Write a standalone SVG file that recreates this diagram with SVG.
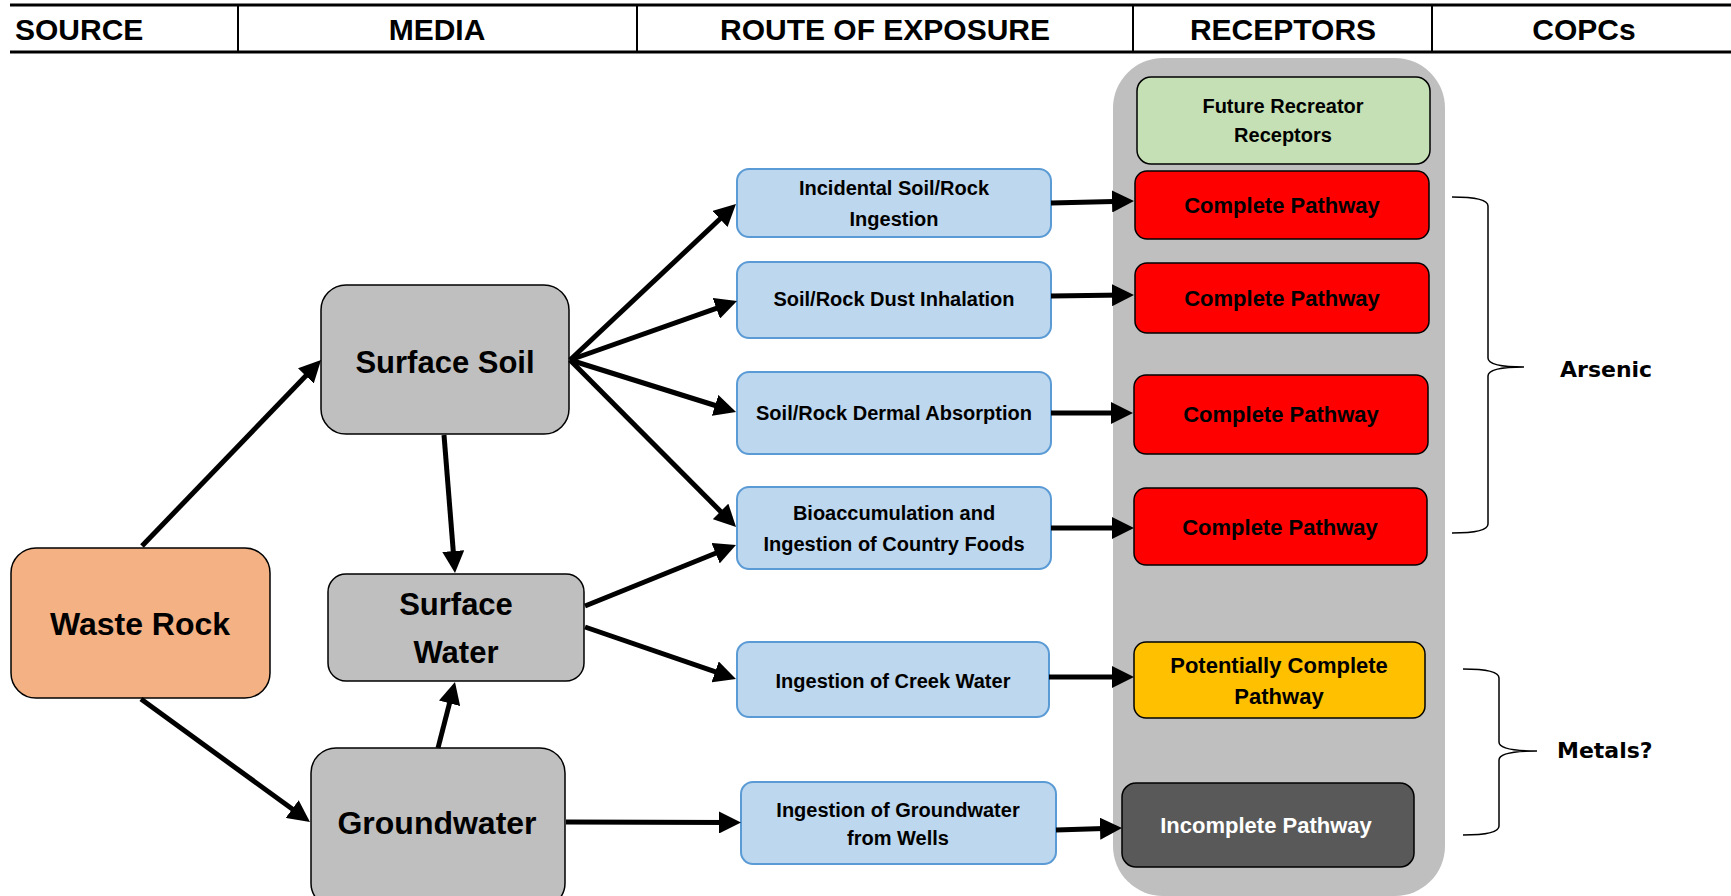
<svg xmlns="http://www.w3.org/2000/svg" width="1731" height="896" viewBox="0 0 1731 896">
<style>
text{font-family:"Liberation Sans",Arial,sans-serif;font-weight:bold;fill:#000;text-anchor:middle}
.hdr{font-size:30px}
.big{font-size:32px}
.rt{font-size:20px}
.rc{font-size:22px}
.gr{font-size:20px}
.copc{font-family:"DejaVu Sans",Verdana,sans-serif;font-size:22px;text-anchor:start}
.med{fill:#BFBFBF;stroke:#000;stroke-width:1.5}
.route{fill:#BDD7EE;stroke:#5B9BD5;stroke-width:2}
.rec{stroke:#000;stroke-width:1.5}
.conn line{stroke:#000;stroke-width:5;marker-end:url(#ah)}
.brace{fill:none;stroke:#000;stroke-width:1.5}
</style>
<defs>
<marker id="ah" viewBox="0 0 22 22" markerWidth="22" markerHeight="22" markerUnits="userSpaceOnUse" refX="12" refY="11" orient="auto">
<path d="M0,0 L22,11 L0,22 z" fill="#000"/>
</marker>
</defs>
<rect width="1731" height="896" fill="#fff"/>
<g id="header">
<line x1="10" y1="5" x2="1731" y2="5" stroke="#000" stroke-width="3"/>
<line x1="10" y1="52" x2="1731" y2="52" stroke="#000" stroke-width="3"/>
<line x1="238" y1="5" x2="238" y2="52" stroke="#000" stroke-width="2"/>
<line x1="637" y1="5" x2="637" y2="52" stroke="#000" stroke-width="2"/>
<line x1="1133" y1="5" x2="1133" y2="52" stroke="#000" stroke-width="2"/>
<line x1="1432" y1="5" x2="1432" y2="52" stroke="#000" stroke-width="2"/>
<text class="hdr" x="15" y="40" style="text-anchor:start">SOURCE</text>
<text class="hdr" x="437" y="40">MEDIA</text>
<text class="hdr" x="885" y="40">ROUTE OF EXPOSURE</text>
<text class="hdr" x="1283" y="40">RECEPTORS</text>
<text class="hdr" x="1584" y="40">COPCs</text>
</g>
<g id="receptor-panel">
<rect x="1113" y="58" width="332" height="838" rx="50" fill="#BFBFBF"/>
</g>
<g id="waste-rock">
<rect x="11" y="548" width="259" height="150" rx="25" fill="#F4B183" stroke="#000" stroke-width="1.5"/>
<text class="big" x="140" y="635">Waste Rock</text>
</g>
<g id="surface-soil">
<rect class="med" x="321" y="285" width="248" height="149" rx="25"/>
<text class="big" x="445" y="373" style="font-size:31px">Surface Soil</text>
</g>
<g id="surface-water">
<rect class="med" x="328" y="574" width="256" height="107" rx="18"/>
<text class="big" x="456" y="615" style="font-size:31px">Surface</text>
<text class="big" x="456" y="663" style="font-size:31px">Water</text>
</g>
<g id="groundwater">
<rect class="med" x="311" y="748" width="254" height="160" rx="25"/>
<text class="big" x="437" y="834">Groundwater</text>
</g>
<g id="route-ingestion">
<rect class="route" x="737" y="169" width="314" height="68" rx="12"/>
<text class="rt" x="894" y="195">Incidental Soil/Rock</text>
<text class="rt" x="894" y="226">Ingestion</text>
</g>
<g id="route-inhalation">
<rect class="route" x="737" y="262" width="314" height="76" rx="12"/>
<text class="rt" x="894" y="306">Soil/Rock Dust Inhalation</text>
</g>
<g id="route-dermal">
<rect class="route" x="737" y="372" width="314" height="82" rx="12"/>
<text class="rt" x="894" y="420">Soil/Rock Dermal Absorption</text>
</g>
<g id="route-bio">
<rect class="route" x="737" y="487" width="314" height="82" rx="12"/>
<text class="rt" x="894" y="520">Bioaccumulation and</text>
<text class="rt" x="894" y="551">Ingestion of Country Foods</text>
</g>
<g id="route-creek">
<rect class="route" x="737" y="642" width="312" height="75" rx="12"/>
<text class="rt" x="893" y="688">Ingestion of Creek Water</text>
</g>
<g id="route-wells">
<rect class="route" x="741" y="782" width="315" height="82" rx="12"/>
<text class="rt" x="898" y="817">Ingestion of Groundwater</text>
<text class="rt" x="898" y="845">from Wells</text>
</g>
<g id="rec-future">
<rect class="rec" x="1137" y="77" width="293" height="87" rx="14" fill="#C5E0B4"/>
<text class="gr" x="1283" y="113">Future Recreator</text>
<text class="gr" x="1283" y="142">Receptors</text>
</g>
<g id="rec-1">
<rect class="rec" x="1135" y="171" width="294" height="68" rx="12" fill="#FF0000"/>
<text class="rc" x="1282" y="213">Complete Pathway</text>
</g>
<g id="rec-2">
<rect class="rec" x="1135" y="263" width="294" height="70" rx="12" fill="#FF0000"/>
<text class="rc" x="1282" y="306">Complete Pathway</text>
</g>
<g id="rec-3">
<rect class="rec" x="1134" y="375" width="294" height="79" rx="12" fill="#FF0000"/>
<text class="rc" x="1281" y="422">Complete Pathway</text>
</g>
<g id="rec-4">
<rect class="rec" x="1134" y="488" width="293" height="77" rx="12" fill="#FF0000"/>
<text class="rc" x="1280" y="535">Complete Pathway</text>
</g>
<g id="rec-potential">
<rect class="rec" x="1134" y="642" width="291" height="76" rx="12" fill="#FFC000"/>
<text class="rc" x="1279" y="673">Potentially Complete</text>
<text class="rc" x="1279" y="704">Pathway</text>
</g>
<g id="rec-incomplete">
<rect class="rec" x="1122" y="783" width="292" height="84" rx="14" fill="#595959"/>
<text class="rc" x="1266" y="833" style="fill:#fff">Incomplete Pathway</text>
</g>
<g id="copc-arsenic">
<path class="brace" d="M1452,197 Q1488,197 1488,206 L1488,358 Q1488,367 1524,367 Q1488,367 1488,376 L1488,524 Q1488,533 1452,533"/>
<text class="copc" x="1560" y="377">Arsenic</text>
</g>
<g id="copc-metals">
<path class="brace" d="M1463,669 Q1499,669 1499,678 L1499,742 Q1499,751 1537,751 Q1499,751 1499,760 L1499,826 Q1499,835 1463,835"/>
<text class="copc" x="1557" y="758">Metals?</text>
</g>
<g id="connectors" class="conn">
<line x1="142" y1="546" x2="314.1" y2="367.2"/>
<line x1="141" y1="699" x2="301.9" y2="816.1"/>
<line x1="444" y1="435" x2="454.2" y2="563"/>
<line x1="438" y1="748" x2="452.5" y2="691.7"/>
<line x1="570" y1="360" x2="728.7" y2="210.8"/>
<line x1="570" y1="360" x2="727.6" y2="304.3"/>
<line x1="570" y1="360" x2="726.5" y2="409"/>
<line x1="570" y1="360" x2="729" y2="519.9"/>
<line x1="585" y1="606" x2="726.7" y2="548.7"/>
<line x1="585" y1="627" x2="726.5" y2="675.7"/>
<line x1="566" y1="822" x2="731" y2="822.5"/>
<line x1="1051" y1="203" x2="1124" y2="201.2"/>
<line x1="1051" y1="296" x2="1124" y2="295.1"/>
<line x1="1051" y1="413" x2="1123" y2="413"/>
<line x1="1051" y1="528" x2="1124" y2="528"/>
<line x1="1049" y1="677" x2="1124" y2="677"/>
<line x1="1056" y1="830" x2="1112" y2="828.3"/>
</g>
</svg>
